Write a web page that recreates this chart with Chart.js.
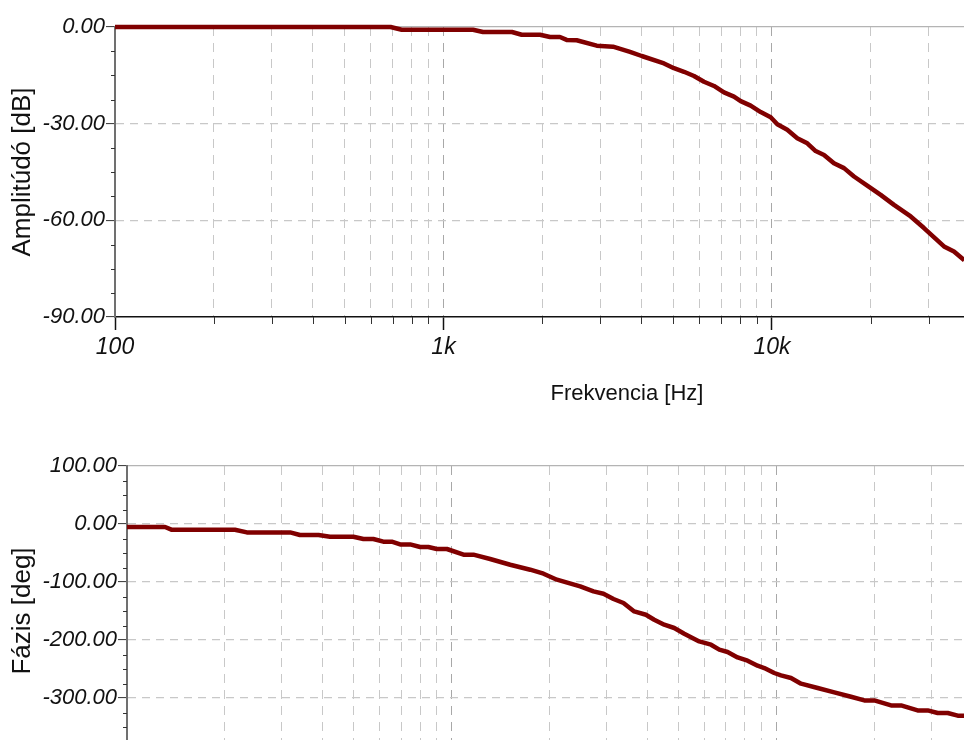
<!DOCTYPE html>
<html>
<head>
<meta charset="utf-8">
<script src="https://cdn.jsdelivr.net/npm/chart.js"></script>
<style>
  html, body { margin: 0; padding: 0; background: #fff; }
  #wrap { position: relative; width: 964px; height: 740px; overflow: hidden; background: #fff; }
  #wrap canvas { position: absolute; left: 0; }
</style>
</head>
<body>
<div id="wrap">
  <canvas id="ampChart" width="1140" height="410" style="top:0px"></canvas>
  <canvas id="phaseChart" width="1140" height="410" style="top:439px"></canvas>
</div>
<script>
// amplitude response
const ampFreq = [100, 690, 746, 1230, 1319, 1616, 1730, 1967, 2110, 2262, 2371, 2544, 2927, 3281, 3696, 4012,
  4691, 5030, 5397, 5788, 6209, 6660, 7143, 7661, 8030, 8612, 9240, 9910, 10380, 11130, 11940, 12810,
  13580, 14400, 15440, 16570, 17770, 19500, 21420, 23520, 26440, 29020, 33390, 35810, 38500];
const ampDb = [0, 0, -0.84, -0.84, -1.55, -1.55, -2.4, -2.4, -3.1, -3.1, -4.0, -4.1, -5.8, -6.1, -7.7, -9.0,
  -11.3, -12.8, -13.9, -15.2, -17.0, -18.3, -20.3, -21.6, -23.0, -24.4, -26.4, -28.0, -30.2, -31.9, -34.5, -36.1,
  -38.5, -39.7, -42.3, -43.8, -46.4, -49.2, -52.1, -55.2, -58.8, -62.4, -68.1, -69.7, -72.4];

// phase response
const phaseFreq = [100, 131, 137, 215, 234, 318, 341, 389, 422, 498, 535, 574, 616, 654, 694, 745, 800, 848, 900, 967,
  1088, 1167, 1314, 1515, 1746, 1919, 2110, 2489, 2735, 2936, 3152, 3383, 3651, 3967, 4207, 4517, 4850, 5205,
  5790, 6294, 6675, 7079, 7600, 8157, 8757, 9184, 9858, 10340, 11100, 11920, 13410, 15090, 16990, 18670, 20040,
  22570, 24230, 27250, 29270, 31410, 33730, 36220, 38500];
const phaseDeg = [-5.2, -5.2, -9.8, -9.8, -14.5, -14.5, -19, -19, -22, -22, -25.9, -25.9, -30.5, -30.5, -35.2, -35.2, -39.7, -39.7, -43.1, -43.1,
  -52.9, -52.9, -60.3, -70.2, -78.8, -85.7, -96, -107.6, -116.2, -120.2, -129.3, -136.2, -150.7, -156.4, -165, -173.6, -179.3, -189.1,
  -202.4, -208.1, -216.7, -220.7, -230, -235.7, -244.3, -248.3, -256.9, -261, -265.5, -275.3, -282.8, -290.3, -297.8, -304.1, -304.1,
  -312.8, -312.8, -321.4, -321.4, -325.9, -325.9, -330.5, -330.5];

const xMajorTicks = [100, 1000, 10000, 100000];
const xTickLabels = ['100', '1k', '10k', '100k'];
const ampTicks = [0, -30, -60, -90];
const phaseTicks = [100, 0, -100, -200, -300, -400];

const X_MIN = 100, X_MAX = 131000;
const lineColor = '#800000';
const fontSans = "'Liberation Sans', Arial, sans-serif";

// grid positions 1..9 x decade, minor tick marks in between the labelled ones
const xGridTicks = [];
for (const d of xMajorTicks) {
  for (let m = 1; m <= 9; m++) {
    if (d * m <= X_MAX) xGridTicks.push(d * m);
  }
}
const xMinor = xGridTicks.filter(v => !xMajorTicks.includes(v));
function yMinor(ticks, step) {
  const out = [];
  for (let v = ticks[ticks.length - 1]; v < ticks[0]; v += step) {
    if (!ticks.includes(v)) out.push(v);
  }
  return out;
}

const minorTicks = {
  id: 'minorTicks',
  afterDraw(chart, args, opts) {
    const ctx = chart.ctx;
    const xs = chart.scales.x, ys = chart.scales.y;
    ctx.save();
    ctx.strokeStyle = '#333';
    ctx.lineWidth = 1;
    ctx.beginPath();
    opts.x.forEach(v => {
      const px = Math.round(xs.getPixelForValue(v)) + 0.5;
      ctx.moveTo(px, xs.top);
      ctx.lineTo(px, xs.top + 7);
    });
    opts.y.forEach(v => {
      const py = Math.round(ys.getPixelForValue(v)) + 0.5;
      ctx.moveTo(ys.right - 4, py);
      ctx.lineTo(ys.right, py);
    });
    ctx.stroke();
    ctx.restore();
  }
};

function xScale(showLabels, showTitle) {
  return {
    type: 'logarithmic',
    min: X_MIN,
    max: X_MAX,
    afterBuildTicks: s => { s.ticks = xGridTicks.map(v => ({ value: v })); },
    afterFit: s => { s.height = 92; },
    ticks: {
      display: showLabels,
      autoSkip: false,
      maxRotation: 0,
      padding: 4,
      color: '#111',
      font: { family: fontSans, size: 23, style: 'italic' },
      callback: v => {
        const i = xMajorTicks.indexOf(v);
        return i >= 0 ? xTickLabels[i] : '';
      }
    },
    grid: {
      color: c => {
        if (!c.tick || c.tick.value === X_MIN) return 'rgba(0,0,0,0)';
        return xMajorTicks.includes(c.tick.value) ? '#a8a8a8' : '#c8c8c8';
      },
      lineWidth: 1,
      tickLength: 13,
      tickWidth: 1.5,
      tickColor: c => (c.tick && xMajorTicks.includes(c.tick.value)) ? '#111' : 'rgba(0,0,0,0)'
    },
    border: { color: '#111', width: 1.5, dash: [9, 7] },
    title: {
      display: showTitle,
      text: 'Frekvencia [Hz]',
      color: '#111',
      font: { family: fontSans, size: 22 },
      padding: { top: 0, bottom: 2 }
    }
  };
}

function yScale(ticks, width, title) {
  return {
    min: ticks[ticks.length - 1],
    max: ticks[0],
    afterBuildTicks: s => { s.ticks = ticks.map(v => ({ value: v })); },
    afterFit: s => { s.width = width; },
    ticks: {
      padding: 1,
      color: '#111',
      font: { family: fontSans, size: 22, style: 'italic' },
      callback: v => v.toFixed(2)
    },
    grid: {
      color: c => {
        if (!c.tick || c.tick.value === ticks[ticks.length - 1]) return 'rgba(0,0,0,0)';
        return c.tick.value === ticks[0] ? '#b4b4b4' : '#c8c8c8';
      },
      lineWidth: 1.2,
      tickLength: 9,
      tickWidth: 1,
      tickColor: '#333'
    },
    border: {
      color: '#707070',
      width: 2,
      dash: c => (c.tick && c.tick.value !== ticks[0]) ? [8, 6] : []
    },
    title: {
      display: true,
      text: title,
      color: '#111',
      font: { family: fontSans, size: 26 },
      padding: { top: 7, bottom: 0 }
    }
  };
}

function makeChart(id, freq, vals, yTicks, yWidth, yTitle, step, showX) {
  const points = freq.map((f, i) => ({ x: f, y: vals[i] }));
  return new Chart(document.getElementById(id), {
    type: 'line',
    data: {
      datasets: [{
        data: points,
        borderColor: lineColor,
        borderWidth: 4.5,
        pointRadius: 0,
        tension: 0,
        fill: false,
        clip: 6,
        borderJoinStyle: 'round'
      }]
    },
    options: {
      responsive: false,
      animation: false,
      layout: { padding: { top: 27, right: 1, bottom: 1, left: 0 } },
      plugins: {
        legend: { display: false },
        tooltip: { enabled: false },
        minorTicks: { x: xMinor, y: yMinor(yTicks, step) }
      },
      scales: {
        x: xScale(showX, showX),
        y: yScale(yTicks, yWidth, yTitle)
      }
    },
    plugins: [minorTicks]
  });
}

makeChart('ampChart', ampFreq, ampDb, ampTicks, 115, 'Amplitúdó [dB]', 7.5, true);
makeChart('phaseChart', phaseFreq, phaseDeg, phaseTicks, 127, 'Fázis [deg]', 25, false);
</script>
</body>
</html>
